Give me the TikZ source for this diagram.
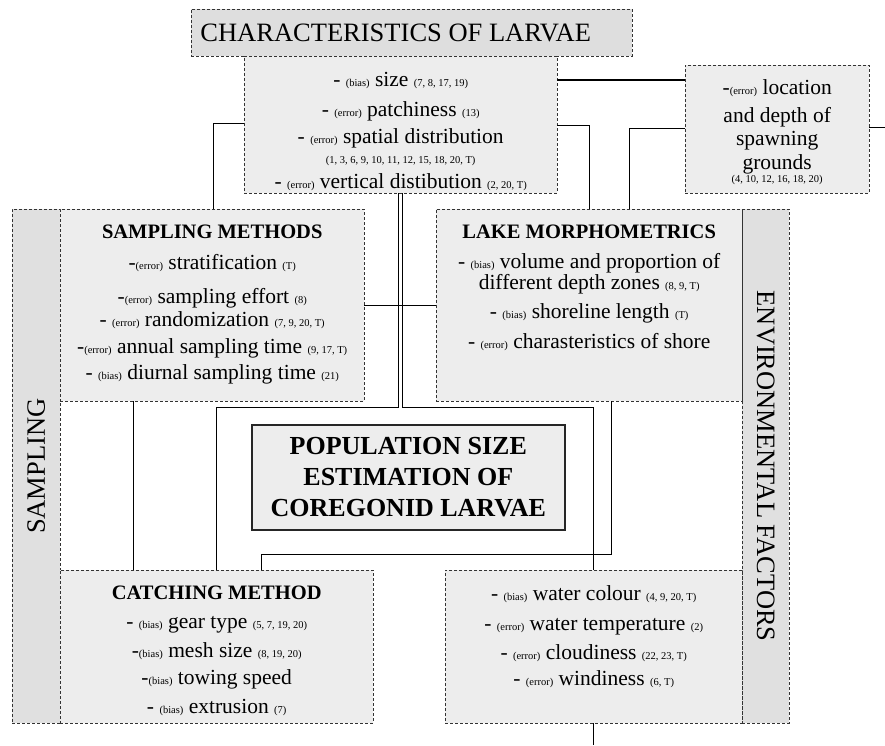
\documentclass[tikz,border=0pt]{standalone}
\usepackage{fontspec}
\setmainfont{Liberation Serif}
\usetikzlibrary{calc,positioning}
\definecolor{boxgray}{gray}{0.93}
\definecolor{bargray}{gray}{0.88}
\definecolor{headgray}{gray}{0.87}
\newcommand{\tagfs}[1]{{\fontsize{10.5}{11}\selectfont #1}}
\newcommand{\mainfs}{\fontsize{21.5}{22}\selectfont}
\newcommand{\headfs}{\fontsize{20.5}{22}\selectfont\bfseries}
\newcommand{\bigfs}{\fontsize{26.5}{28}\selectfont}
\tikzset{
  dbox/.style={rectangle, draw=black!80, dash pattern=on 3pt off 2pt, fill=boxgray, inner sep=0pt},
  dbar/.style={rectangle, draw=black!80, dash pattern=on 3pt off 2pt, fill=bargray, inner sep=0pt},
  dhead/.style={rectangle, draw=black!80, dash pattern=on 3pt off 2pt, fill=headgray, inner sep=0pt},
  core/.style={rectangle, draw=black!85, line width=1.6pt, fill=boxgray, inner sep=0pt, align=center, font=\fontsize{26}{31}\selectfont\bfseries},
  txt/.style={align=center, inner sep=0pt, font=\mainfs, anchor=north},
  link/.style={draw, line width=0.8pt},
}
\begin{document}
\begin{tikzpicture}[x=1pt,y=-1pt]
    \useasboundingbox (0,0) rectangle (885,745);

    % side bars
    \node[dbar, minimum width=48pt, minimum height=514pt, anchor=north west] (sampbar) at (12,209) {};
    \node[dbar, minimum width=47pt, minimum height=514pt, anchor=north west] (envbar) at (742,209) {};
    \node[rotate=90, font=\bigfs] (samplab) at (sampbar.center) {SAMPLING};
    \node[rotate=-90, font=\bigfs] (envlab) at (envbar.center) {ENVIRONMENTAL FACTORS};

    % top
    \node[dhead, minimum width=441pt, minimum height=47pt, anchor=north west] (title) at (191,9) {};
    \node[font=\bigfs] (titletxt) at ($(title.center)+(-16,0)$) {CHARACTERISTICS OF LARVAE};
    \node[dbox, minimum width=313pt, minimum height=137pt, anchor=north west] (char) at (244,56) {};
    \node[txt] (chartxt) at ($(char.north)+(0,16)$) {
      - \tagfs{(bias)} size \tagfs{(7, 8, 17, 19)}\\[8pt]
      - \tagfs{(error)} patchiness \tagfs{(13)}\\[5pt]
      - \tagfs{(error)} spatial distribution\\[-2pt]
      \tagfs{(1, 3, 6, 9, 10, 11, 12, 15, 18, 20, T)}\\[3pt]
      - \tagfs{(error)} vertical distibution \tagfs{(2, 20, T)}};
    \node[dbox, minimum width=184pt, minimum height=128pt, anchor=north west] (loc) at (685,65) {};
    \node[txt] (loctxt) at ($(loc.north)+(0,14)$) {
      -\tagfs{(error)} location\\[6pt]
      and depth of\\[1pt]
      spawning\\[2pt]
      grounds\\[-9pt]
      \tagfs{(4, 10, 12, 16, 18, 20)}};

    % middle
    \node[dbox, minimum width=304pt, minimum height=192pt, anchor=north west] (sampm) at (60,209) {};
    \node[txt] (sampmtxt) at ($(sampm.north)+(0,16)$) {
      {\headfs SAMPLING METHODS}\\[9pt]
      -\tagfs{(error)} stratification \tagfs{(T)}\\[12pt]
      -\tagfs{(error)} sampling effort \tagfs{(8)}\\[1pt]
      - \tagfs{(error)} randomization \tagfs{(7, 9, 20, T)}\\[5pt]
      -\tagfs{(error)} annual sampling time \tagfs{(9, 17, T)}\\[4pt]
      - \tagfs{(bias)} diurnal sampling time \tagfs{(21)}};
    \node[dbox, minimum width=306pt, minimum height=192pt, anchor=north west] (lake) at (436,209) {};
    \node[txt] (laketxt) at ($(lake.north)+(0,16)$) {
      {\headfs LAKE MORPHOMETRICS}\\[8pt]
      - \tagfs{(bias)} volume and proportion of\\[-1pt]
      different depth zones \tagfs{(8, 9, T)}\\[7pt]
      - \tagfs{(bias)} shoreline length \tagfs{(T)}\\[8pt]
      - \tagfs{(error)} charasteristics of shore};

    \node[core, minimum width=313pt, minimum height=105pt, anchor=north west] (pop) at (251,424) {
      POPULATION SIZE\\ ESTIMATION OF\\ COREGONID LARVAE};

    % bottom
    \node[dbox, minimum width=313pt, minimum height=153pt, anchor=north west] (catch) at (60,570) {};
    \node[txt] (catchtxt) at ($(catch.north)+(0,16)$) {
      {\headfs CATCHING METHOD}\\[7pt]
      - \tagfs{(bias)} gear type \tagfs{(5, 7, 19, 20)}\\[7pt]
      -\tagfs{(bias)} mesh size \tagfs{(8, 19, 20)}\\[5pt]
      -\tagfs{(bias)} towing speed\\[7pt]
      - \tagfs{(bias)} extrusion \tagfs{(7)}};
    \node[dbox, minimum width=297pt, minimum height=153pt, anchor=north west] (env) at (445,570) {};
    \node[txt] (envtxt) at ($(env.north)+(0,15)$) {
      - \tagfs{(bias)} water colour \tagfs{(4, 9, 20, T)}\\[8pt]
      - \tagfs{(error)} water temperature \tagfs{(2)}\\[7pt]
      - \tagfs{(error)} cloudiness \tagfs{(22, 23, T)}\\[4pt]
      - \tagfs{(error)} windiness \tagfs{(6, T)}};

    \coordinate (locend) at (885,127);
    \coordinate (envend) at (593,745);

    \begin{scope}[every path/.style=link]
      \path[line width=2pt] ($(char.north east)+(0,24)$) -- ($(loc.north west)+(0,15)$);
      \path ($(loc.north west)+(0,63)$) -| ($(lake.north west)+(193,0)$);
      \path ($(loc.north east)+(0,62)$) -- (locend);
      \path ($(char.north west)+(0,67)$) -| ($(sampm.north west)+(153,0)$);
      \path ($(char.north east)+(0,69)$) -| ($(lake.north west)+(153,0)$);
      \path ($(char.south)+(-2,0)$) -- ++(0,214) -| ($(catch.north west)+(156,0)$);
      \path ($(char.south)+(2,0)$) -- ++(0,214) -| ($(env.north west)+(148,0)$);
      \path (sampm.east) -- (lake.west);
      \path ($(sampm.south west)+(73,0)$) -- ($(catch.north west)+(73,0)$);
      \path ($(lake.south west)+(175,0)$) -- ++(0,153) -| ($(catch.north west)+(201,0)$);
      \path ($(env.south west)+(148,0)$) -- (envend);
    \end{scope}

\end{tikzpicture}
\end{document}
